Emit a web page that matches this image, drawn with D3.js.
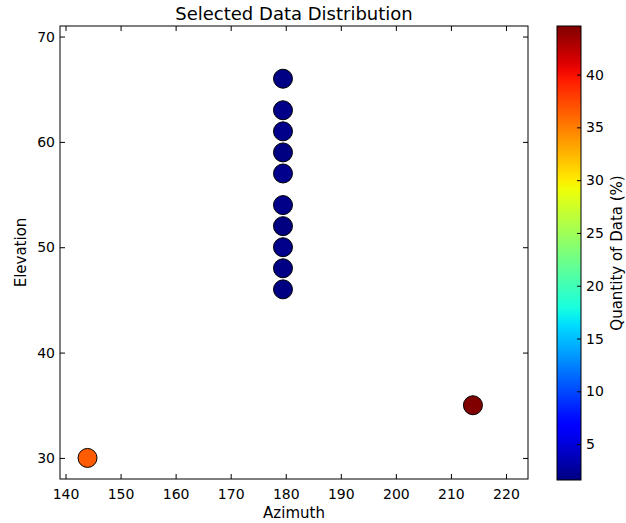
<!DOCTYPE html>
<html>
<head>
<meta charset="utf-8">
<script src="https://cdn.jsdelivr.net/npm/d3@7"></script>
<style>
  body { margin: 0; background: #fff; }
  svg { display: block; font-family: "DejaVu Sans", sans-serif; }
  .tick text { font-family: "DejaVu Sans", sans-serif; font-size: 14px; }
</style>
</head>
<body>
<svg id="chart" width="626" height="523"></svg>
<script>
// data
var azimuth   = [179.5, 179.5, 179.5, 179.5, 179.5, 179.5, 179.5, 179.5, 179.5, 179.5, 144, 214];
var elevation = [66, 63, 61, 59, 57, 54, 52, 50, 48, 46, 30, 35];
var quantity  = [1.8, 1.9, 2.0, 1.7, 2.1, 1.9, 1.6, 2.0, 1.8, 1.7, 36.6, 44.6];
var xTicks = [140, 150, 160, 170, 180, 190, 200, 210, 220];
var yTicks = [30, 40, 50, 60, 70];
var cTicks = [5, 10, 15, 20, 25, 30, 35, 40];

var points = azimuth.map(function (a, i) {
  return { az: a, el: elevation[i], q: quantity[i] };
});

var margin = { top: 26, left: 60 };
var width = 468, height = 453;

var svg = d3.select("#chart");

var x = d3.scaleLinear().domain([139, 224]).range([0, width]);
var y = d3.scaleLinear().domain([28, 71]).range([height, 0]);
var cExtent = d3.extent(quantity);

// matplotlib jet colormap
function jet(t) {
  t = Math.max(0, Math.min(1, t));
  function seg(pts) {
    for (var i = 1; i < pts.length; i++) {
      if (t <= pts[i][0]) {
        var a = pts[i - 1], b = pts[i];
        return a[1] + (b[1] - a[1]) * (t - a[0]) / (b[0] - a[0]);
      }
    }
    return pts[pts.length - 1][1];
  }
  var r = seg([[0, 0], [0.35, 0], [0.66, 1], [0.89, 1], [1, 0.5]]);
  var g = seg([[0, 0], [0.125, 0], [0.375, 1], [0.64, 1], [0.91, 0], [1, 0]]);
  var b = seg([[0, 0.5], [0.11, 1], [0.34, 1], [0.65, 0], [1, 0]]);
  return d3.rgb(r * 255, g * 255, b * 255).toString();
}
var cNorm = d3.scaleLinear().domain(cExtent).range([0, 1]);

var g = svg.append("g").attr("transform", "translate(" + margin.left + "," + margin.top + ")");

// points
g.selectAll("circle.pt")
  .data(points)
  .enter().append("circle")
  .attr("class", "pt")
  .attr("cx", function (d) { return x(d.az); })
  .attr("cy", function (d) { return y(d.el); })
  .attr("r", 9.5)
  .attr("fill", function (d) { return jet(cNorm(d.q)); })
  .attr("stroke", "#000")
  .attr("stroke-width", 1);

// axes, ticks pointing inward on all four sides
function styleAxis(sel) {
  sel.attr("font-size", null).attr("font-family", null);
  sel.select(".domain").remove();
  sel.selectAll(".tick line").attr("stroke", "#000");
  sel.selectAll(".tick text").attr("fill", "#000");
}
g.append("g").attr("transform", "translate(0," + height + ")")
  .call(d3.axisBottom(x).tickValues(xTicks).tickSizeInner(-5).tickSizeOuter(0).tickPadding(10))
  .call(styleAxis);
g.append("g")
  .call(d3.axisTop(x).tickValues(xTicks).tickSizeInner(-5).tickSizeOuter(0).tickFormat(""))
  .call(styleAxis);
g.append("g")
  .call(d3.axisLeft(y).tickValues(yTicks).tickSizeInner(-5).tickSizeOuter(0).tickPadding(5))
  .call(styleAxis);
g.append("g").attr("transform", "translate(" + width + ",0)")
  .call(d3.axisRight(y).tickValues(yTicks).tickSizeInner(-5).tickSizeOuter(0).tickFormat(""))
  .call(styleAxis);

g.append("rect")
  .attr("width", width).attr("height", height)
  .attr("fill", "none").attr("stroke", "#000").attr("stroke-width", 1);

// title and labels
svg.append("text")
  .attr("x", margin.left + width / 2).attr("y", 20)
  .attr("text-anchor", "middle").style("font-size", "18px")
  .text("Selected Data Distribution");
svg.append("text")
  .attr("x", margin.left + width / 2).attr("y", 518)
  .attr("text-anchor", "middle").style("font-size", "15px")
  .text("Azimuth");
svg.append("text")
  .attr("transform", "translate(26," + (margin.top + height / 2) + ") rotate(-90)")
  .attr("text-anchor", "middle").style("font-size", "15px")
  .text("Elevation");

// colorbar
var cb = { x: 557, y: 26, w: 24, h: 454 };
var cy = d3.scaleLinear().domain(cExtent).range([cb.y + cb.h, cb.y]);

var defs = svg.append("defs");
var grad = defs.append("linearGradient").attr("id", "jetGrad")
  .attr("x1", 0).attr("y1", 1).attr("x2", 0).attr("y2", 0);
d3.range(0, 1.0001, 0.02).forEach(function (t) {
  grad.append("stop").attr("offset", t).attr("stop-color", jet(t));
});
svg.append("rect")
  .attr("x", cb.x).attr("y", cb.y).attr("width", cb.w).attr("height", cb.h)
  .attr("fill", "url(#jetGrad)");

svg.append("g").attr("transform", "translate(" + (cb.x + cb.w) + ",0)")
  .call(d3.axisRight(cy).tickValues(cTicks).tickSizeInner(-4).tickSizeOuter(0).tickPadding(5))
  .call(styleAxis);

svg.append("rect")
  .attr("x", cb.x).attr("y", cb.y).attr("width", cb.w).attr("height", cb.h)
  .attr("fill", "none").attr("stroke", "#000").attr("stroke-width", 1);

svg.append("text")
  .attr("transform", "translate(622," + (cb.y + cb.h / 2) + ") rotate(-90)")
  .attr("text-anchor", "middle").style("font-size", "15px")
  .text("Quantity of Data (%)");
</script>
</body>
</html>
